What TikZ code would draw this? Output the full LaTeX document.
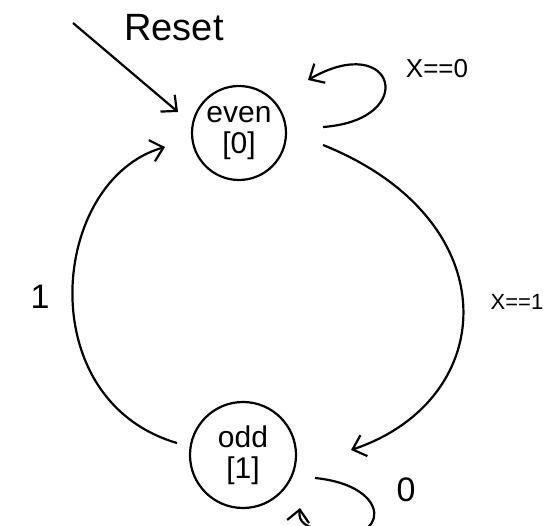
\documentclass[tikz,border=0pt]{standalone}
\usepackage{fontspec}
\setmainfont{Liberation Sans}
\usetikzlibrary{arrows.meta}
\begin{document}
\begin{tikzpicture}[x=1pt,y=-1pt,
  state/.style={draw,circle,line width=2.2pt,minimum size=#1,inner sep=0pt,align=center,font=\fontsize{30}{31}\selectfont},
  edge/.style={line width=2.2pt,-{Straight Barb[length=12pt,width=22pt,line width=2.2pt]}},
  lbl/.style={font=\fontsize{28}{30}\selectfont,inner sep=0pt}]
\useasboundingbox[fill=white] (0,0) rectangle (546,526);
\node[state=94pt] (even) at (239,133) {even\\{}[0]};
\node[state=106pt] (odd) at (243,455) {odd\\{}[1]};
\coordinate (rs) at (73,23);
\coordinate (rt) at (178,112);
\node[lbl,font=\fontsize{38}{40}\selectfont] (reset) at (174,28) {Reset};
\draw[edge] (rs) -- (rt);
% even self loop
\coordinate (el0) at (323,127);
\coordinate (el1) at (308,80);
\draw[edge] (el0) .. controls (420,120) and (395,30) .. (el1);
\node[lbl,font=\fontsize{26}{28}\selectfont] (x0) at (437,69) {X==0};
% even -> odd
\coordinate (eo0) at (323,145);
\coordinate (eo1) at (351,450);
\draw[edge] (eo0) .. controls (510,220) and (500,400) .. (eo1);
\node[lbl,font=\fontsize{22}{24}\selectfont] (x1) at (517,302) {X==1};
% odd -> even
\coordinate (oe0) at (177,443);
\coordinate (oe1) at (165,147);
\draw[edge] (oe0) .. controls (30,400) and (50,180) .. (oe1);
\node[lbl,font=\fontsize{34}{36}\selectfont] (one) at (40,297) {1};
% odd self loop
\coordinate (ol0) at (315,478);
\coordinate (olm) at (330,532);
\coordinate (ol1) at (300,508);
\draw[edge] (ol0) .. controls (395,486) and (388,545) .. (olm) .. controls (305,528) and (298,522) .. (ol1);
\node[lbl,font=\fontsize{34}{36}\selectfont] (zero) at (406,490) {0};
\end{tikzpicture}
\end{document}
